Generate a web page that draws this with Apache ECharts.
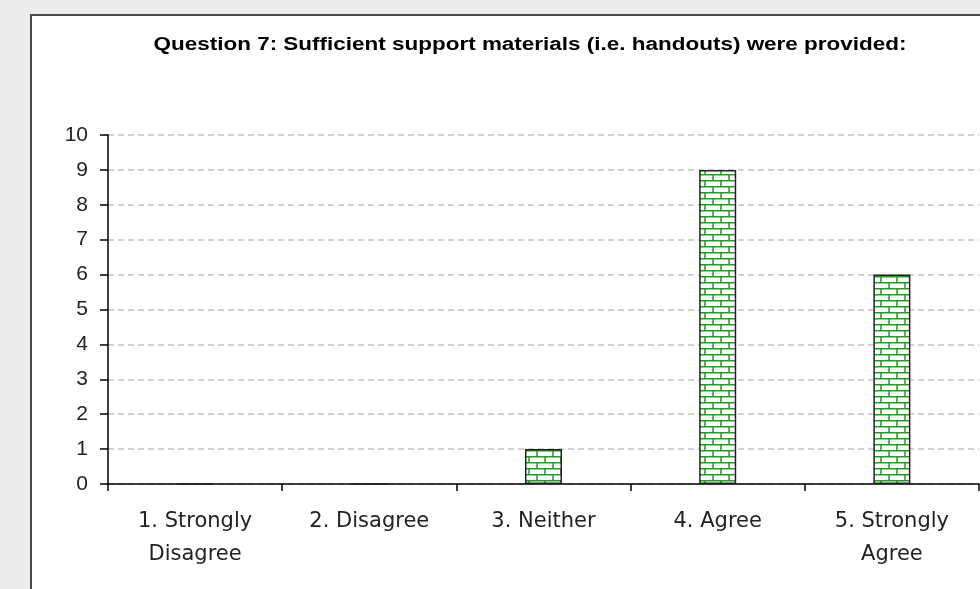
<!DOCTYPE html>
<html>
<head>
<meta charset="utf-8">
<script src="https://cdn.jsdelivr.net/npm/echarts@6/dist/echarts.min.js"></script>
<style>
    html, body { margin: 0; padding: 0; background: #ececec; }
    #chart { width: 980px; height: 589px; }
</style>
</head>
<body>
<div id="chart"></div>
<script>
// data
var titleText = 'Question 7: Sufficient support materials (i.e. handouts) were provided:'
var categories = ['1. Strongly\nDisagree', '2. Disagree', '3. Neither', '4. Agree', '5. Strongly\nAgree']
var counts = [0, 0, 1, 9, 6]
var yTicks = [0, 10, 1]  // min, max, interval

// brick fill
function brickPattern() {
    var w = 16, h = 12
    var c = document.createElement('canvas')
    c.width = w
    c.height = h
    var ctx = c.getContext('2d')
    ctx.fillStyle = '#ffffff'
    ctx.fillRect(0, 0, w, h)
    ctx.strokeStyle = '#1f9e1f'
    ctx.lineWidth = 1.5
    ctx.beginPath()
    ctx.moveTo(0, 0.75); ctx.lineTo(w, 0.75)
    ctx.moveTo(0, h / 2 + 0.75); ctx.lineTo(w, h / 2 + 0.75)
    ctx.moveTo(1, 0); ctx.lineTo(1, h / 2)
    ctx.moveTo(w / 2 + 1, h / 2); ctx.lineTo(w / 2 + 1, h)
    ctx.stroke()
    return c
}

// the old title font is drawn wider than Arial bold, stretch it
var titleFont = 'bold 18px "Liberation Sans", Arial, sans-serif'
function titleScale() {
    var ctx = document.createElement('canvas').getContext('2d')
    ctx.font = titleFont
    return 753 / ctx.measureText(titleText).width
}

var chart = echarts.init(document.getElementById('chart'), null, { renderer: 'canvas' })
var option = {
    backgroundColor: '#ececec',
    animation: false,
    graphic: [
        {
            type: 'rect',
            shape: { x: 31, y: 15, width: 1000, height: 700 },
            style: { fill: '#ffffff', stroke: '#4a4a4a', lineWidth: 2 },
            z: -10
        },
        {
            type: 'text',
            x: 530,
            y: 45,
            scaleX: titleScale(),
            style: {
                text: titleText,
                font: titleFont,
                fill: '#000',
                align: 'center',
                verticalAlign: 'middle'
            }
        }
    ],
    grid: { left: 108, right: 1, top: 135, bottom: 105, containLabel: false },
    xAxis: {
        type: 'category',
        data: categories,
        axisLine: { lineStyle: { color: '#000', width: 1.5 } },
        axisTick: { show: true, length: 7, lineStyle: { color: '#000', width: 1.5 } },
        axisLabel: {
            interval: 0,
            margin: 21,
            lineHeight: 33,
            color: '#222',
            fontFamily: 'DejaVu Sans, sans-serif',
            fontSize: 21
        }
    },
    yAxis: {
        type: 'value',
        min: yTicks[0],
        max: yTicks[1],
        interval: yTicks[2],
        axisLine: { show: true, lineStyle: { color: '#000', width: 1.5 } },
        axisTick: { show: true, length: 8, lineStyle: { color: '#000', width: 1.5 } },
        axisLabel: {
            margin: 20,
            color: '#222',
            fontFamily: 'Liberation Sans, Arial, sans-serif',
            fontSize: 21
        },
        splitLine: { lineStyle: { color: '#c4c4c4', type: [6, 4], width: 1.5 } }
    },
    series: [
        {
            type: 'bar',
            data: counts,
            barWidth: 37,
            itemStyle: {
                color: { image: brickPattern(), repeat: 'repeat' },
                borderColor: '#222',
                borderWidth: 1.5
            }
        }
    ]
}
chart.setOption(option)
</script>
</body>
</html>
